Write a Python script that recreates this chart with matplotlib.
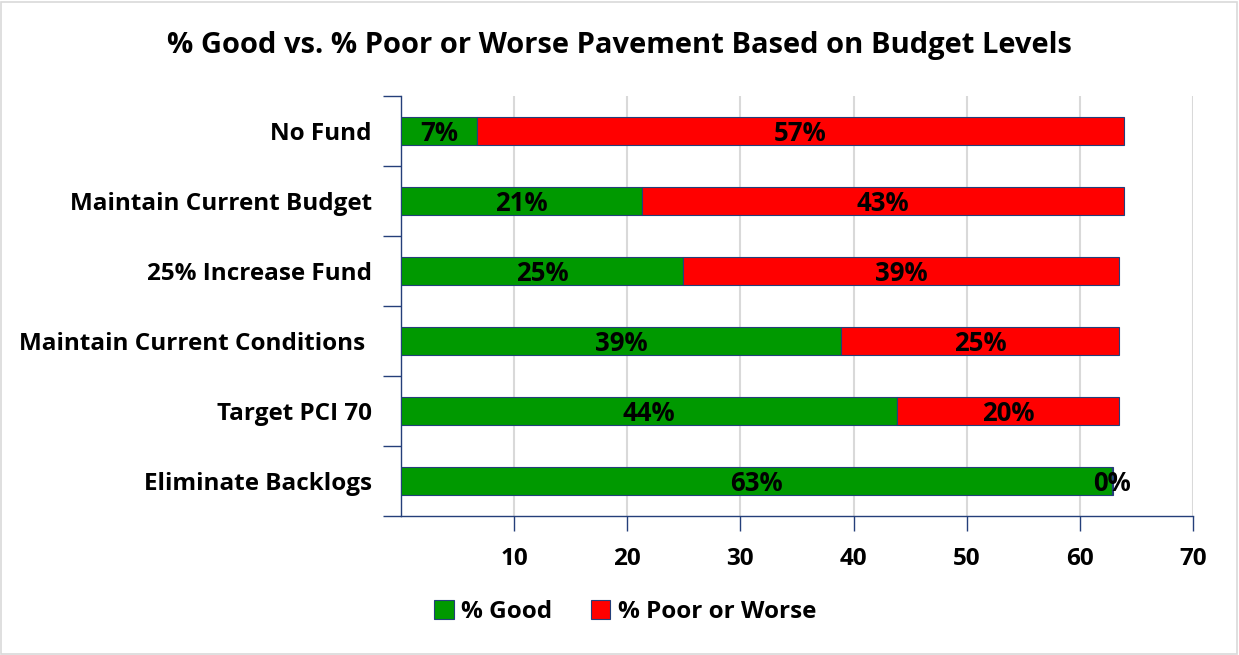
import matplotlib.pyplot as plt
from matplotlib.patches import Rectangle

# Budget scenarios, top to bottom
scenarios = ['No Fund', 'Maintain Current Budget', '25% Increase Fund',
             'Maintain Current Conditions ', 'Target PCI 70', 'Eliminate Backlogs']
pctGood = [6.7, 21.3, 24.9, 38.9, 43.8, 62.8]
pctPoor = [57.2, 42.6, 38.6, 24.6, 19.7, 0.1]
goodLabels = ['7%', '21%', '25%', '39%', '44%', '63%']
poorLabels = ['57%', '43%', '39%', '25%', '20%', '0%']
xTicks = [10, 20, 30, 40, 50, 60, 70]

plt.rcParams['font.family'] = ['Open Sans', 'DejaVu Sans']
plt.rcParams['font.weight'] = 'bold'

fig = plt.figure(figsize=(12.39, 6.55), dpi=100)
ax = fig.add_axes([401 / 1239, 1 - 516 / 655, 792 / 1239, 420 / 655])

navy = '#243F7A'
fs = 17.5
ypos = list(range(len(scenarios)))[::-1]
barsGood = ax.barh(ypos, pctGood, height=0.4, color='#009900', edgecolor=navy,
                   linewidth=0.8, label='% Good', zorder=3)
barsPoor = ax.barh(ypos, pctPoor, left=pctGood, height=0.4, color='#FF0000',
                   edgecolor=navy, linewidth=0.8, label='% Poor or Worse', zorder=3)
# value labels sit a touch below bar centre, like the original
for bars, labels in [(barsGood, goodLabels), (barsPoor, poorLabels)]:
    for bar, txt in zip(bars, labels):
        ax.annotate(txt, (bar.get_x() + bar.get_width() / 2, bar.get_y() + bar.get_height() / 2),
                    xytext=(0, -1.5), textcoords='offset points', ha='center', va='center',
                    fontsize=18.5, fontweight='bold', zorder=4)

ax.set_xlim(0, 70)
ax.set_ylim(-0.5, 5.5)
ax.set_xticks(xTicks)
ax.set_xticklabels([str(t) for t in xTicks], fontsize=fs, fontweight='bold')
ax.set_yticks(ypos)
ax.set_yticklabels(scenarios, fontsize=fs, fontweight='bold')
ax.tick_params(axis='y', length=0, pad=21)
ax.set_yticks([i - 0.5 for i in range(len(scenarios) + 1)], minor=True)
ax.tick_params(axis='y', which='minor', length=13, color=navy, width=1)
ax.tick_params(axis='x', length=11, color=navy, width=1, pad=11)
ax.grid(axis='x', color='#D9D9D9', linewidth=1.5, zorder=0)
for side in ['top', 'right']:
    ax.spines[side].set_visible(False)
for side in ['left', 'bottom']:
    ax.spines[side].set_color(navy)
    ax.spines[side].set_linewidth(1)

fig.text(0.5, 1 - 45 / 655, '% Good vs. % Poor or Worse Pavement Based on Budget Levels',
         ha='center', va='center', fontsize=21, fontweight='bold')
fig.legend(loc='center', bbox_to_anchor=(625 / 1239, 1 - 612 / 655), ncol=2, frameon=False,
           fontsize=fs, handlelength=0.8, handleheight=0.8, handletextpad=0.3, columnspacing=1.6)

fig.patches.append(Rectangle((0.001, 0.002), 0.997, 0.995, transform=fig.transFigure,
                             fill=False, edgecolor='#D9D9D9', linewidth=1.2))

fig.savefig('out.png', dpi=100)
